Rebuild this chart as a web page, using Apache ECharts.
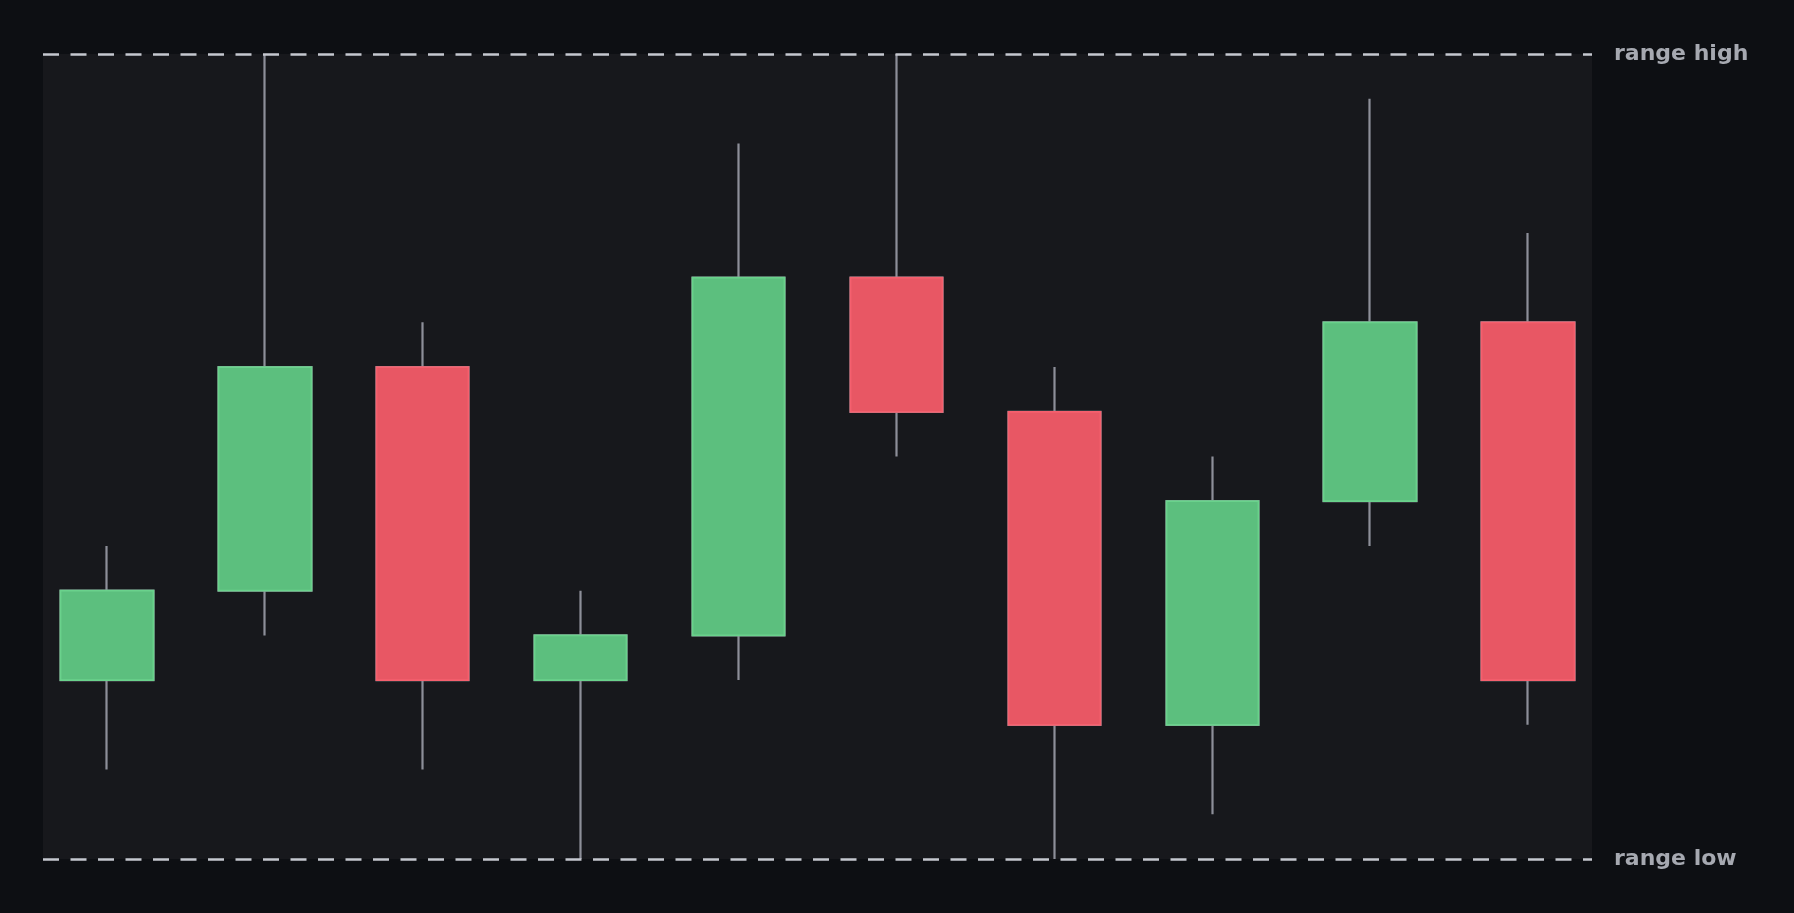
<!DOCTYPE html>
<html>
<head>
<meta charset="utf-8">
<style>
  html, body { margin: 0; padding: 0; background: #0d0f13; }
  #chart { width: 1794px; height: 913px; }
</style>
<script src="https://cdn.jsdelivr.net/npm/echarts@6/dist/echarts.min.js"></script>
</head>
<body>
<div id="chart"></div>
<script>
const opens  = [4, 6, 11, 4, 5, 13, 10, 3, 8, 12];
const closes = [6, 11, 4, 5, 13, 10, 3, 8, 12, 4];
const lows   = [2, 5, 2, 0, 4, 9, 0, 1, 7, 3];
const highs  = [7, 18, 12, 6, 16, 18, 11, 9, 17, 14];
const rangeLow = 0;
const rangeHigh = 18;
const rangeLabels = ['range low', 'range high'];

const wickData = opens.map((o, i) => [i, o, closes[i], lows[i], highs[i]]);
const bodyData = opens.map((o, i) => [i, o, closes[i], Math.min(o, closes[i]), Math.max(o, closes[i])]);

const chart = echarts.init(document.getElementById('chart'));
chart.setOption({
  backgroundColor: '#0d0f13',
  animation: false,
  grid: {
    left: 43, right: 202, top: 54, bottom: 54,
    show: true, backgroundColor: '#17181c', borderWidth: 0
  },
  xAxis: {
    type: 'value', min: -0.405, max: 9.405, show: false,
    splitLine: { show: false }
  },
  yAxis: {
    type: 'value', min: rangeLow, max: rangeHigh, show: false,
    splitLine: { show: false }
  },
  series: [
    {
      type: 'candlestick',
      data: wickData,
      barWidth: '60%',
      itemStyle: {
        color: '#5cbf7e', color0: '#e85764',
        borderColor: '#8d8f99', borderColor0: '#8d8f99',
        borderWidth: 2.2
      },
      markLine: {
        silent: true,
        symbol: 'none',
        lineStyle: { color: '#c5c8cf', type: [16, 11.5], width: 2.5 },
        label: {
          show: true, position: 'end', distance: 22,
          color: '#a6a9b1', fontSize: 22, fontWeight: 'bold',
          fontFamily: 'DejaVu Sans',
          formatter: p => p.name
        },
        data: [
          { yAxis: rangeHigh, name: rangeLabels[1] },
          { yAxis: rangeLow, name: rangeLabels[0] }
        ]
      }
    },
    {
      type: 'candlestick',
      data: bodyData,
      barWidth: '60%',
      itemStyle: {
        color: '#5cbf7e', color0: '#e85764',
        borderColor: '#6ad28c', borderColor0: '#f5606e',
        borderWidth: 1.8
      }
    }
  ]
});
</script>
</body>
</html>
